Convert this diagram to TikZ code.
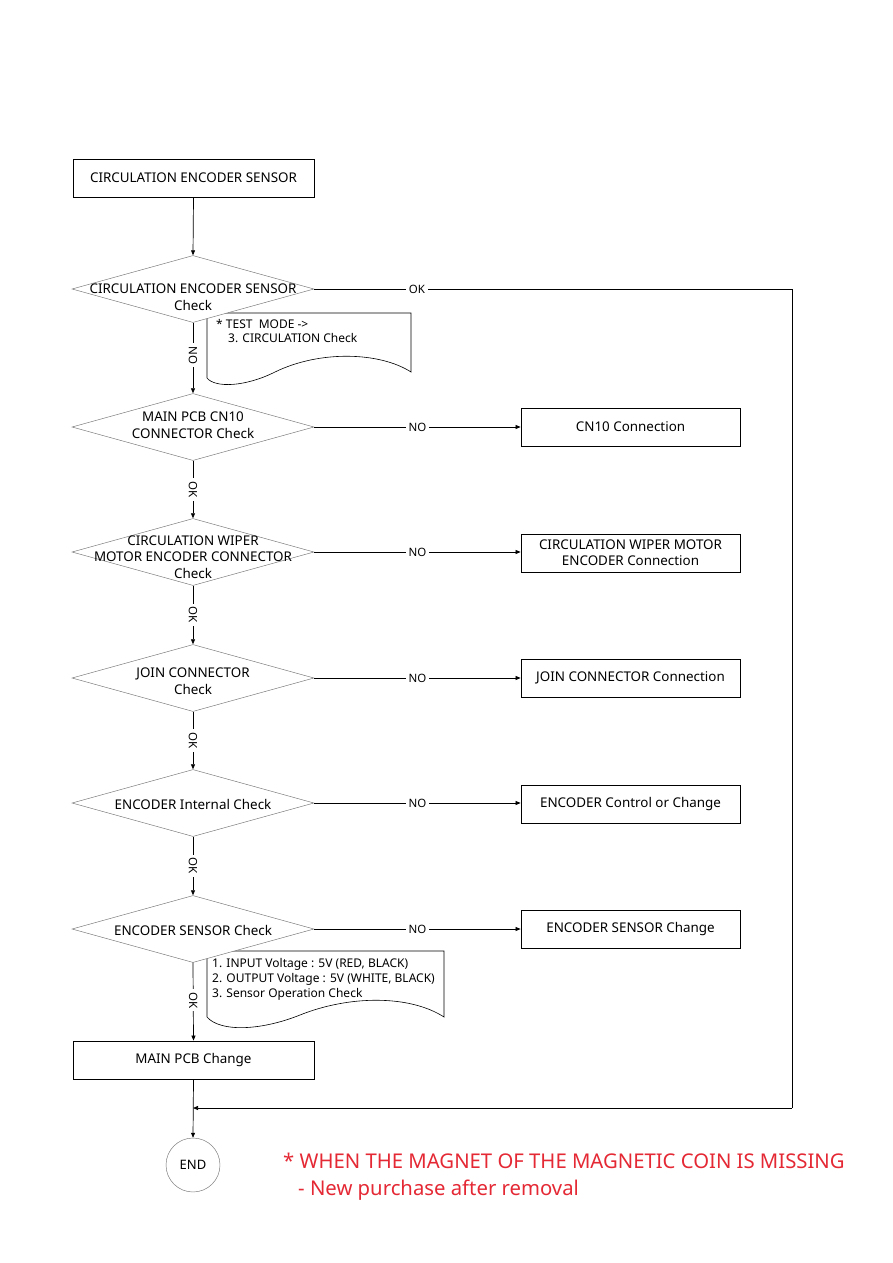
\documentclass[tikz,border=0pt]{standalone}
\usepackage{fontspec}
\setmainfont{Noto Sans}
\usetikzlibrary{shapes.geometric,arrows.meta}
\definecolor{warnred}{RGB}{228,40,52}
\begin{document}
\begin{tikzpicture}[x=1pt,y=-1pt,
  txt/.style={font=\fontsize{13.4}{16.5}\selectfont, align=center, inner sep=0},
  box/.style={draw, line width=0.8pt, minimum width=241pt, minimum height=38pt, inner sep=0, font=\fontsize{13.4}{16}\selectfont, align=center},
  sbox/.style={box, minimum width=219pt},
  dia/.style={diamond, draw=black!55, line width=0.45pt, fill=white, minimum width=242pt, minimum height=67pt, inner sep=0},
  lbl/.style={fill=white, inner sep=3pt, font=\fontsize{11.5}{13}\selectfont},
  arr/.style={-{Triangle[length=5pt,width=4pt]}, line width=0.7pt},
  ln/.style={line width=0.7pt},
  note/.style={draw, line width=0.6pt, fill=white},
  notetxt/.style={font=\fontsize{12}{15}\selectfont, align=left, inner sep=0, anchor=north west}]
\useasboundingbox (0,0) rectangle (893,1263);

% notes (drawn first, behind diamonds)
\draw[note] (207,378) -- (207,313) -- (411,313) -- (411,372)
  .. controls (380,352) and (320,350) .. (275,372)
  .. controls (245,387) and (215,388) .. (207,378);
\draw[note] (207,1017) -- (207,951) -- (444,951) -- (444,1017)
  .. controls (410,995) and (350,995) .. (300,1015)
  .. controls (260,1031) and (220,1032) .. (207,1017);

% start box
\node[box] (b0) at (193.5,178) {CIRCULATION ENCODER SENSOR};

% diamonds
\node[dia] (d1) at (193,289) {};
\node[txt] (t1) at (193,297) {CIRCULATION ENCODER SENSOR\\Check};
\node[dia] (d2) at (193,427) {};
\node[txt] (t2) at (193,425) {MAIN PCB CN10\\CONNECTOR Check};
\node[dia] (d3) at (193,552) {};
\node[txt] (t3) at (193,557) {CIRCULATION WIPER\\MOTOR ENCODER CONNECTOR\\Check};
\node[dia] (d4) at (193,678) {};
\node[txt] (t4) at (193,681) {JOIN CONNECTOR\\Check};
\node[dia] (d5) at (193,803) {};
\node[txt] (t5) at (193,804) {ENCODER Internal Check};
\node[dia] (d6) at (193,929) {};
\node[txt] (t6) at (193,930) {ENCODER SENSOR Check};

% note texts
\node[notetxt] (n1a) at (216,319) {* TEST\ \ MODE ->};
\node[notetxt] (n1b) at (228,333) {3. CIRCULATION Check};
\node[notetxt] (n2) at (212,958) {1. INPUT Voltage : 5V (RED, BLACK)\\2. OUTPUT Voltage : 5V (WHITE, BLACK)\\3. Sensor Operation Check};

% right boxes
\node[sbox] (r2) at (630.5,427) {CN10 Connection};
\node[sbox] (r3) at (630.5,553) {CIRCULATION WIPER MOTOR\\ENCODER Connection};
\node[sbox] (r4) at (630.5,678) {JOIN CONNECTOR Connection};
\node[sbox] (r5) at (630.5,804) {ENCODER Control or Change};
\node[sbox] (r6) at (630.5,929) {ENCODER SENSOR Change};

% main pcb box and end
\node[box] (b7) at (193.5,1060) {MAIN PCB Change};
\node[circle, draw=black!55, line width=0.45pt, minimum size=54pt, inner sep=0, font=\fontsize{13}{15}\selectfont] (end) at (193,1165) {END};

% coordinates for the OK loop
\coordinate (c1) at (792,289);
\coordinate (c2) at (792,1108);
\coordinate (c3) at (193,1108);

% vertical flow
\draw[arr] (b0.south) -- (d1.north);
\draw[arr] (d1.south) -- node[lbl, rotate=-90, pos=0.46]{NO} (d2.north);
\draw[arr] (d2.south) -- node[lbl, rotate=-90]{OK} (d3.north);
\draw[arr] (d3.south) -- node[lbl, rotate=-90]{OK} (d4.north);
\draw[arr] (d4.south) -- node[lbl, rotate=-90]{OK} (d5.north);
\draw[arr] (d5.south) -- node[lbl, rotate=-90]{OK} (d6.north);
\draw[arr] (d6.south) -- node[lbl, rotate=-90, pos=0.48]{OK} (b7.north);
\draw[arr] (b7.south) -- (end.north);

% horizontal NO branches
\draw[arr] (d2.east) -- node[lbl]{NO} (r2.west);
\draw[arr] (d3.east) -- node[lbl]{NO} (d3.east -| r3.west);
\draw[arr] (d4.east) -- node[lbl]{NO} (r4.west);
\draw[arr] (d5.east) -- node[lbl]{NO} (d5.east -| r5.west);
\draw[arr] (d6.east) -- node[lbl]{NO} (r6.west);

% OK loop
\draw[ln] (d1.east) -- node[lbl, pos=0.215]{OK} (c1) -- (c2);
\draw[arr] (c2) -- (c3);

% red remark
\node[anchor=base west, inner sep=0, text=warnred, font=\fontsize{20.3}{24}\selectfont] (w1) at (283,1168) {* WHEN THE MAGNET OF THE MAGNETIC COIN IS MISSING};
\node[anchor=base west, inner sep=0, text=warnred, font=\fontsize{20.3}{24}\selectfont] (w2) at (298,1195) {- New purchase after removal};
\end{tikzpicture}
\end{document}
